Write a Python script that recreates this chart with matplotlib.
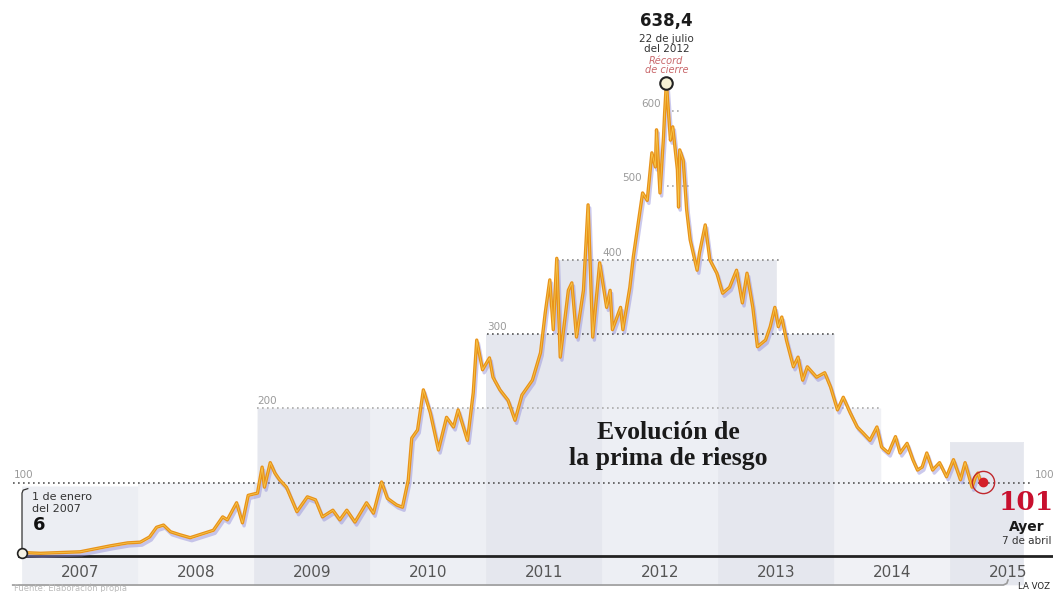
import matplotlib
matplotlib.use("Agg")
from matplotlib import pyplot as plt
import matplotlib.patheffects as pe
import numpy as np

# prima de riesgo (puntos básicos), fecha en años decimales
fecha = [2007.00, 2007.16, 2007.33, 2007.50, 2007.63, 2007.76, 2007.91, 2008.02, 2008.10, 2008.16,
         2008.22, 2008.28, 2008.36, 2008.45, 2008.53, 2008.65, 2008.73, 2008.77, 2008.85, 2008.90,
         2008.95, 2009.03, 2009.07, 2009.09, 2009.14, 2009.18, 2009.22, 2009.28, 2009.37, 2009.46,
         2009.53, 2009.59, 2009.68, 2009.74, 2009.80, 2009.87, 2009.97, 2010.03, 2010.10, 2010.15,
         2010.23, 2010.28, 2010.33, 2010.36, 2010.41, 2010.46, 2010.52, 2010.59, 2010.66, 2010.72,
         2010.76, 2010.84, 2010.89, 2010.92, 2010.97, 2011.03, 2011.06, 2011.12, 2011.19, 2011.25,
         2011.31, 2011.40, 2011.47, 2011.51, 2011.55, 2011.58, 2011.61, 2011.64, 2011.71, 2011.74,
         2011.78, 2011.84, 2011.88, 2011.92, 2011.98, 2012.04, 2012.07, 2012.09, 2012.16, 2012.18,
         2012.24, 2012.27, 2012.30, 2012.35, 2012.39, 2012.43, 2012.46, 2012.47, 2012.50, 2012.53,
         2012.54, 2012.555, 2012.59, 2012.61, 2012.65, 2012.66, 2012.67, 2012.70, 2012.73, 2012.76,
         2012.82, 2012.84, 2012.89, 2012.93, 2012.99, 2013.04, 2013.10, 2013.16, 2013.21, 2013.25,
         2013.30, 2013.34, 2013.41, 2013.45, 2013.49, 2013.52, 2013.55, 2013.59, 2013.65, 2013.69,
         2013.73, 2013.77, 2013.85, 2013.92, 2013.97, 2014.03, 2014.08, 2014.14, 2014.20, 2014.25,
         2014.31, 2014.37, 2014.41, 2014.47, 2014.53, 2014.57, 2014.63, 2014.68, 2014.72, 2014.76,
         2014.80, 2014.85, 2014.91, 2014.97, 2015.03, 2015.09, 2015.13, 2015.19, 2015.22, 2015.24,
         2015.265]
prima = [6, 5, 6, 7, 11, 15, 19, 20, 27, 40,
         43, 34, 30, 26, 30, 36, 54, 50, 73, 46,
         83, 86, 121, 94, 127, 113, 104, 94, 61, 81,
         77, 54, 63, 50, 63, 47, 73, 59, 101, 79,
         70, 67, 104, 160, 171, 225, 194, 144, 188, 175,
         198, 157, 221, 292, 252, 268, 242, 225, 211, 184,
         218, 238, 275, 328, 373, 306, 402, 269, 359, 369,
         296, 359, 474, 296, 396, 336, 359, 306, 336, 306,
         363, 404, 436, 490, 480, 544, 525, 575, 490, 565,
         598, 638.4, 561, 579, 521, 471, 548, 534, 467, 427,
         386, 409, 447, 400, 382, 355, 363, 386, 342, 382,
         336, 283, 292, 310, 336, 310, 323, 292, 256, 269,
         238, 256, 242, 248, 229, 198, 215, 194, 175, 167,
         157, 175, 148, 140, 162, 140, 153, 131, 117, 121,
         140, 117, 127, 108, 131, 104, 127, 94, 108, 113,
         101]

anios = [2007, 2008, 2009, 2010, 2011, 2012, 2013, 2014, 2015]
color_col = ['#eceef3', '#f3f4f7', '#e5e7ee', '#edeff4', '#e5e7ee',
             '#edeff4', '#e5e7ee', '#f0f1f5', '#e5e7ee']

# escalones del fondo
esc_nivel = [95, 100, 200, 300, 400, 155]
esc_desde = [2007.0, 2008.0, 2009.03, 2011.0, 2011.6, 2015.0]
esc_hasta = [2008.0, 2015.0, 2014.4, 2014.0, 2013.5, 2015.63]

# líneas de referencia punteadas
ref_nivel = [100, 200, 300, 400, 500, 600]
ref_desde = [2006.92, 2009.03, 2011.01, 2011.61, 2012.56, 2012.56]
ref_hasta = [2015.69, 2014.40, 2014.01, 2013.53, 2012.78, 2012.67]
ref_texto_x = [2006.93, 2009.03, 2011.01, 2012.0, 2012.17, 2012.34]
ref_color = ['#555555', '#aaaaaa', '#555555', '#888888', '#aaaaaa', '#aaaaaa']

naranja = '#e8921a'

fig = plt.figure(figsize=(10.53, 5.92), dpi=100)
ax = fig.add_axes([0, 0, 1, 1])
ax.set_xlim(2007 - 22 / 116, 2007 + 1031 / 116)
ax.set_ylim(-47.1, 749.7)
ax.axis('off')


def escalon(x):
    h = np.zeros_like(x)
    for n, a, b in zip(esc_nivel, esc_desde, esc_hasta):
        h = np.where((x >= a) & (x <= b), np.maximum(h, n), h)
    return h


# fondo en columnas por año
for i, an in enumerate(anios):
    fin = min(an + 1, esc_hasta[-1])
    xs = np.linspace(an, fin, 800)
    ax.fill_between(xs, -37, escalon(xs), color=color_col[i], lw=0.5,
                    edgecolor=color_col[i], zorder=0)

for n, a, b, tx, c in zip(ref_nivel, ref_desde, ref_hasta, ref_texto_x, ref_color):
    ax.plot([a, b], [n, n], color=c, lw=1.2, ls=(0, (1, 2)), zorder=1)
    ax.text(tx, n + 3, str(n), color='#9a9a9a', fontsize=7.5, ha='left', va='bottom', zorder=1)
ax.text(2015.73, 103, '100', color='#9a9a9a', fontsize=7.5, ha='left', va='bottom')

# título
ax.text(2012.57, 167, 'Evolución de', family='Liberation Serif', fontweight='bold',
        fontsize=18.5, ha='center', va='center', color='#1a1a1a', zorder=2)
ax.text(2012.57, 132, 'la prima de riesgo', family='Liberation Serif', fontweight='bold',
        fontsize=18.5, ha='center', va='center', color='#1a1a1a', zorder=2)

# serie
ax.plot(fecha, prima, color=naranja, lw=2.4, zorder=4, solid_joinstyle='round',
        path_effects=[pe.SimpleLineShadow(offset=(1.2, -2.2), shadow_color='#8d88d8', alpha=0.45),
                      pe.Normal()])
ax.plot(fecha, prima, color='#f6c64a', lw=0.6, zorder=5)

# eje
ax.plot([2006.97, 2015.9], [1.5, 1.5], color='#222222', lw=2, zorder=3)
for an in anios:
    ax.text(an + 0.5, -21, str(an), ha='center', va='center', fontsize=11, color='#555555')

# inicio
ax.plot([fecha[0], fecha[0], 2007.01, 2007.05], [prima[0], 86, 90, 92], color='#333333', lw=0.9, zorder=3)
ax.plot(fecha[0], prima[0], 'o', ms=7, mfc='#f4f1e4', mec='#222222', mew=1.2, zorder=6)
ax.text(2007.09, 81, '1 de enero', fontsize=8, color='#333333', ha='left', va='center')
ax.text(2007.09, 64, 'del 2007', fontsize=8, color='#333333', ha='left', va='center')
ax.text(2007.09, 43, '6', fontsize=13, fontweight='bold', color='#111111', ha='left', va='center')

# máximo
imax = int(np.argmax(prima))
ax.plot(fecha[imax], prima[imax], 'o', ms=9, mfc='#f5f0d4', mec='#222222', mew=1.5, zorder=6)
ax.text(fecha[imax], 721, '638,4', fontsize=12, fontweight='bold', color='#1a1a1a', ha='center', va='center')
ax.text(fecha[imax], 697, '22 de julio', fontsize=7.5, color='#333333', ha='center', va='center')
ax.text(fecha[imax], 684, 'del 2012', fontsize=7.5, color='#333333', ha='center', va='center')
ax.text(fecha[imax], 668, 'Récord', fontsize=7, style='italic', color='#c9686b', ha='center', va='center')
ax.text(fecha[imax], 655, 'de cierre', fontsize=7, style='italic', color='#c9686b', ha='center', va='center')

# último dato
ax.plot(fecha[-1] + 0.02, prima[-1], 'o', ms=16, mfc='none', mec='#c0282d', mew=1.0, zorder=6)
ax.plot(fecha[-1] + 0.02, prima[-1], 'o', ms=6, mfc='#d4202a', mec='#d4202a', zorder=7)
ax.text(2015.66, 73, '101', family='DejaVu Serif', fontsize=19, fontweight='bold',
        color='#c8102e', ha='center', va='center')
ax.text(2015.66, 40, 'Ayer', fontsize=10, fontweight='bold', color='#1a1a1a', ha='center', va='center')
ax.text(2015.66, 22, '7 de abril', fontsize=7.5, color='#333333', ha='center', va='center')

# pie
ax.plot([2006.92, 2015.46, 2015.49, 2015.5], [-37.7, -37.7, -35.5, -31], color='#9a9a9a', lw=1.2)
ax.text(2006.93, -48, 'Fuente: Elaboración propia', fontsize=6, color='#bbbbbb', ha='left', va='bottom')
ax.text(2015.59, -46, 'LA VOZ', fontsize=6.2, color='#222222', ha='left', va='bottom')

fig.savefig('out.png', dpi=100)
